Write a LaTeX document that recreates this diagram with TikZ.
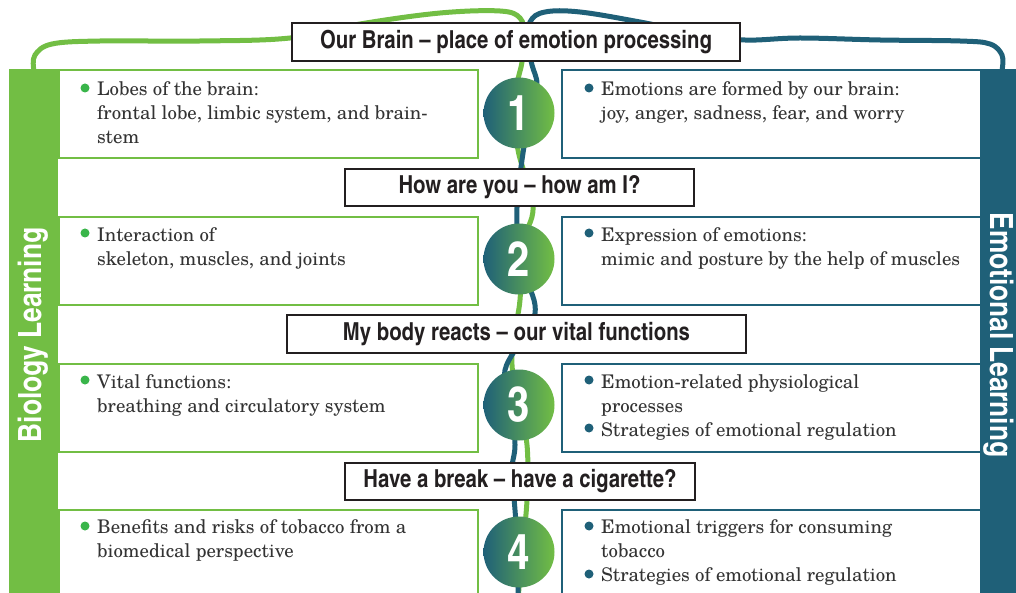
\documentclass[tikz,border=0pt]{standalone}
\usepackage{fontspec}
\setmainfont{texgyreschola-regular.otf}
\newfontfamily\headfont{texgyreheroscn-bold.otf}
\usetikzlibrary{shapes}
\definecolor{biogreen}{RGB}{114,190,68}
\definecolor{dotgreen}{RGB}{57,181,74}
\definecolor{emoblue}{RGB}{31,96,120}
\definecolor{headdark}{RGB}{35,31,32}
\definecolor{bodygray}{RGB}{51,51,51}

\begin{document}
\begin{tikzpicture}[x=1pt,y=-1pt]
		\tikzstyle{heading} = [rectangle, draw=headdark, line width=2.5pt, fill=white, text=headdark, inner sep=0pt, font=\headfont\fontsize{24.8}{28}\selectfont]
		\tikzstyle{biobox} = [rectangle, draw=biogreen, line width=2pt, fill=white, anchor=north west, inner sep=0pt, minimum width=419pt, minimum height=88pt]
		\tikzstyle{emobox} = [rectangle, draw=emoblue, line width=2pt, fill=white, anchor=north west, inner sep=0pt, minimum width=419pt, minimum height=88pt]
		\tikzstyle{itemtext} = [anchor=north west, align=left, inner sep=0pt, text=bodygray, font=\fontsize{18.8}{24}\selectfont]
		\tikzstyle{biodot} = [circle, fill=dotgreen, minimum size=9pt, inner sep=0pt]
		\tikzstyle{emodot} = [circle, fill=emoblue, minimum size=9pt, inner sep=0pt]
		\tikzstyle{numball} = [circle, minimum size=71pt, inner sep=0pt, left color=emoblue, right color=biogreen, text=white, font=\headfont\fontsize{49}{49}\selectfont]
		\tikzstyle{thread} = [line width=5pt, line cap=round]
		\tikzstyle{barlabel} = [text=white, inner sep=0pt, font=\headfont\fontsize{32}{32}\selectfont]
		\useasboundingbox (0,0) rectangle (1016,593);
		\clip (0,0) rectangle (1016,593);
		% side bars
		\node [fill=biogreen, anchor=north west, inner sep=0pt, minimum width=49pt, minimum height=531pt] at (9,69) (biobar) {};
		\node [fill=emoblue, anchor=north west, inner sep=0pt, minimum width=44pt, minimum height=531pt] at (980,69) (emobar) {};
		\node [barlabel, rotate=90] at (33,335) (biolabel) {Biology Learning};
		\node [barlabel, rotate=-90] at (999,335) (emolabel) {Emotional Learning};
		% threads
		\draw [thread, biogreen] plot [smooth, tension=0.6] coordinates {(biobar.north) (35,55) (52,44) (100,41) (200,41) (290,38) (360,24) (440,13) (500,11) (520,18) (524,35) (522,62) (517,85) (517,113) (518,150) (533,207) (522,245) (520,300) (514,335) (512,365) (518,405) (527,445) (527,500) (522,552) (518,600)};
		\draw [thread, emoblue] plot [smooth, tension=0.6] coordinates {(emobar.north) (1002,55) (990,44) (960,41) (880,40) (800,38) (745,40) (700,34) (640,22) (580,12) (545,12) (530,22) (528,45) (532,65) (537,85) (530,113) (522,160) (517,207) (520,260) (535,305) (528,330) (505,370) (512,405) (515,445) (512,470) (515,510) (518,552) (518,600)};
		% content boxes
		\node [biobox] at (58,69) (bio1) {};
		\node [emobox] at (561,69) (emo1) {};
		\node [biobox] at (58,216) (bio2) {};
		\node [emobox] at (561,216) (emo2) {};
		\node [biobox] at (58,363) (bio3) {};
		\node [emobox] at (561,363) (emo3) {};
		\node [biobox] at (58,509) (bio4) {};
		\node [emobox] at (561,509) (emo4) {};
		% headings
		\node [heading, minimum width=448pt, minimum height=38pt] at (516,42) (head1) {Our Brain – place of emotion processing};
		\node [heading, minimum width=349pt, minimum height=37pt] at (519.5,187.5) (head2) {How are you – how am I?};
		\node [heading, minimum width=459pt, minimum height=38pt] at (516.5,334) (head3) {My body reacts – our vital functions};
		\node [heading, minimum width=350pt, minimum height=37pt] at (520,481.5) (head4) {Have a break – have a cigarette?};
		% numbers
		\node [numball] at (519,113) (ball1) {1};
		\node [numball] at (519,259) (ball2) {2};
		\node [numball] at (519,405) (ball3) {3};
		\node [numball] at (519,552) (ball4) {4};
		% texts
		\node [biodot] at (85,88) (biodot1) {};
		\node [itemtext] at (97,81) (biotext1) {Lobes of the brain:\\frontal lobe, limbic system, and brain-\\stem};
		\node [emodot] at (589,88) (emodot1) {};
		\node [itemtext] at (601,81) (emotext1) {Emotions are formed by our brain:\\joy, anger, sadness, fear, and worry};
		\node [biodot] at (85,233) (biodot2) {};
		\node [itemtext] at (97,227) (biotext2) {Interaction of\\skeleton, muscles, and joints};
		\node [emodot] at (589,233) (emodot2) {};
		\node [itemtext] at (601,227) (emotext2) {Expression of emotions:\\mimic and posture by the help of muscles};
		\node [biodot] at (85,380) (biodot3) {};
		\node [itemtext] at (97,374) (biotext3) {Vital functions:\\breathing and circulatory system};
		\node [emodot] at (589,380) (emodot3a) {};
		\node [emodot] at (589,428) (emodot3b) {};
		\node [itemtext] at (601,374) (emotext3) {Emotion-related physiological\\processes\\Strategies of emotional regulation};
		\node [biodot] at (85,526) (biodot4) {};
		\node [itemtext] at (97,519) (biotext4) {Benefits and risks of tobacco from a\\biomedical perspective};
		\node [emodot] at (589,526) (emodot4a) {};
		\node [emodot] at (589,574) (emodot4b) {};
		\node [itemtext] at (601,519) (emotext4) {Emotional triggers for consuming\\tobacco\\Strategies of emotional regulation};
	\end{tikzpicture}
\end{document}
